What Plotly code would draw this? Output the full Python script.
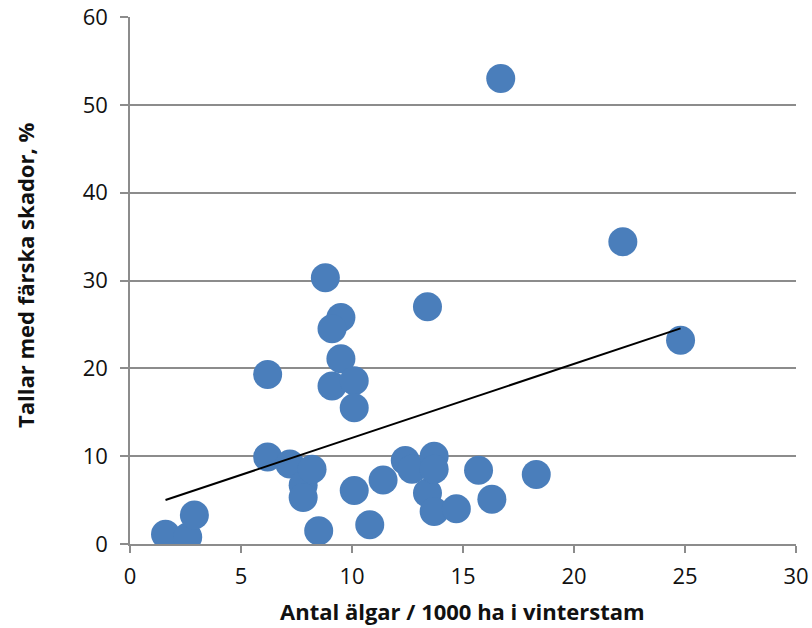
import numpy as np
import plotly.graph_objects as go

moose = [1.6, 2.6, 2.9, 6.2, 6.2, 7.2, 7.8, 7.8, 8.2, 8.5, 8.8, 9.5, 9.1, 9.5, 9.1,
         10.1, 10.1, 10.1, 10.8, 11.4, 12.4, 12.7, 13.4, 13.4, 13.7, 13.7, 13.7,
         14.7, 15.7, 16.3, 16.7, 18.3, 22.2, 24.8]
damage = [1.1, 0.8, 3.3, 19.3, 9.9, 9.1, 6.7, 5.3, 8.5, 1.5, 30.3, 25.8, 24.5, 21.1, 18.0,
          18.6, 15.5, 6.1, 2.2, 7.3, 9.5, 8.5, 27.0, 5.8, 10.0, 8.5, 3.7,
          4.0, 8.4, 5.1, 53.0, 7.9, 34.4, 23.2]

x_ticks = [0, 5, 10, 15, 20, 25, 30]
y_ticks = [0, 10, 20, 30, 40, 50, 60]
x_title = "Antal älgar / 1000 ha i vinterstam"
y_title = "Tallar med färska skador, %"

slope, intercept = np.polyfit(moose, damage, 1)
xt = np.array([min(moose), max(moose)])
yt = slope * xt + intercept

fig = go.Figure()
fig.add_trace(go.Scatter(x=moose, y=damage, mode="markers",
                         marker=dict(size=29, color="#4A7EBB", line=dict(width=0)),
                         showlegend=False))
fig.add_trace(go.Scatter(x=xt, y=yt, mode="lines", line=dict(color="black", width=2),
                         showlegend=False))

font = "Open Sans"
axcol = "#8c8c8c"
fig.update_layout(
    width=812, height=628, plot_bgcolor="white", paper_bgcolor="white",
    margin=dict(l=130, r=16, t=17, b=84),
    font=dict(family=font, size=22, color="#111111"),
    xaxis=dict(range=[0, 30], tickvals=x_ticks, showgrid=False, automargin=False,
               showline=True, linecolor=axcol, linewidth=1.5, ticks="outside",
               ticklen=7, tickcolor=axcol, tickwidth=1.5, zeroline=False,
               ticklabelstandoff=5, ticklabeloverflow="allow"),
    yaxis=dict(range=[0, 60], tickvals=y_ticks, showgrid=True, automargin=False,
               gridcolor=axcol, gridwidth=1.5,
               showline=True, linecolor=axcol, linewidth=1.5, ticks="outside",
               ticklen=8, tickcolor=axcol, tickwidth=1.5, zeroline=False,
               ticklabelstandoff=8, ticklabeloverflow="allow"),
    annotations=[
        dict(text="<b>" + x_title + "</b>", xref="paper", yref="paper", x=0.4985, y=-0.128,
             xanchor="center", yanchor="middle", showarrow=False, font=dict(size=22)),
        dict(text="<b>" + y_title + "</b>", xref="paper", yref="paper", x=-0.158, y=0.51,
             xanchor="center", yanchor="middle", showarrow=False, textangle=-90,
             font=dict(size=22)),
    ],
)
fig.write_html("out.html")
